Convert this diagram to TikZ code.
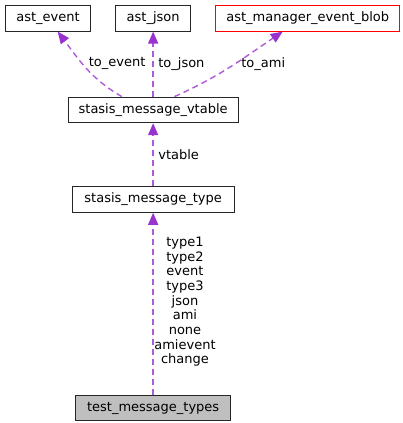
\documentclass[tikz,border=0pt]{standalone}
\usepackage{fontspec}
\setmainfont{DejaVu Sans}
\usetikzlibrary{positioning,arrows.meta}
\definecolor{edgecol}{HTML}{9A32CD}
\definecolor{dashcol}{HTML}{AE5BDA}

\begin{document}
\begin{tikzpicture}[
    x=1pt, y=1pt,
    font=\fontsize{13}{14.7}\selectfont,
    cls/.style={
        draw=black!85,
        line width=1.1pt,
        minimum height=25.5pt,
        inner sep=0pt,
        align=center
    },
    blob/.style={cls, draw=red},
    cur/.style={cls, fill=black!25},
    dep/.style={
        draw=dashcol,
        line width=1.4pt,
        dash pattern=on 6pt off 4pt,
        -{Triangle[length=12pt,width=10pt,color=edgecol]}
    },
    lbl/.style={inner sep=0pt, align=center}
]
\useasboundingbox (0,0) rectangle (403,-423);

% ============================================================
% OBERE REIHE
% ============================================================
\node[cls, minimum width=85pt, anchor=north west] (ev) at (5,-5) {ast\_event};
\node[cls, minimum width=75pt, right=24pt of ev] (js) {ast\_json};
\node[blob, minimum width=184pt, right=24pt of js] (amb) {ast\_manager\_event\_blob};

% ============================================================
% VTABLE UND TYPE
% ============================================================
\node[cls, minimum width=170pt, below=65pt of js] (vt) {stasis\_message\_vtable};
\node[cls, minimum width=162pt, below=63pt of vt] (mt) {stasis\_message\_type};
\node[cur, minimum width=155pt, below=182pt of mt] (tm) {test\_message\_types};

% ============================================================
% KANTEN
% ============================================================
\draw[dep] (vt.157) to[out=150, in=-53]
    node[lbl, pos=0.45, anchor=west, xshift=-1pt, yshift=8pt] {to\_event} (ev.-54);
\draw[dep] (vt.north -| js.south) --
    node[lbl, midway, anchor=west, xshift=4.5pt] {to\_json} (js.south);
\draw[dep] (vt.32) to[out=24, in=-146]
    node[lbl, pos=0.5, anchor=west, xshift=10.5pt, yshift=2.5pt] {to\_ami} (amb.-152);
\draw[dep] (mt.north -| vt.south) --
    node[lbl, midway, anchor=west, xshift=4.5pt] {vtable} (vt.south);
\draw[dep] (tm.north -| mt.south) --
    node[lbl, midway, anchor=west, xshift=0.5pt, yshift=2pt] {type1\\type2\\event\\type3\\json\\ami\\none\\amievent\\change} (mt.south);

\end{tikzpicture}
\end{document}
